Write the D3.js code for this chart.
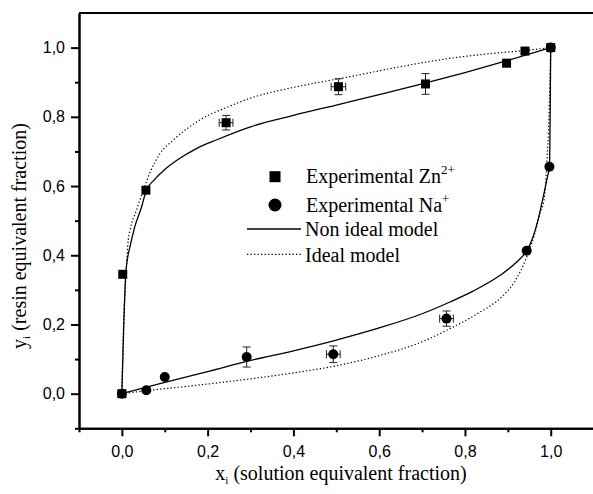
<!DOCTYPE html>
<html>
<head>
<meta charset="utf-8">
<script src="https://cdn.jsdelivr.net/npm/d3@7"></script>
<style>
  html, body { margin: 0; padding: 0; background: #fff; }
  svg { display: block; }
</style>
</head>
<body>
<svg id="chart" width="593" height="494"></svg>
<script>
// ---------- DATA ----------
const xTickValues = [0.0, 0.2, 0.4, 0.6, 0.8, 1.0];
const yTickValues = [0.0, 0.2, 0.4, 0.6, 0.8, 1.0];
const xMinorTicks = [-0.1, 0.1, 0.3, 0.5, 0.7, 0.9];
const yMinorTicks = [-0.1, 0.1, 0.3, 0.5, 0.7, 0.9];

// Experimental Zn2+ (squares)
const znX    = [0, 0.002, 0.056, 0.243, 0.505, 0.708, 0.897, 0.94, 1.0];
const znY    = [0, 0.345, 0.588, 0.783, 0.887, 0.895, 0.955, 0.99, 1.0];
const znYErr = [0, 0, 0, 0.021, 0.023, 0.030, 0, 0, 0];
const znXErr = [0, 0, 0, 0.016, 0.017, 0, 0, 0, 0];

// Experimental Na+ (circles)
const naX    = [0, 0.057, 0.1, 0.291, 0.493, 0.757, 0.944, 0.997, 1.0];
const naY    = [0, 0.010, 0.048, 0.106, 0.114, 0.217, 0.413, 0.656, 1.0];
const naYErr = [0, 0, 0, 0.029, 0.024, 0.022, 0, 0, 0];
const naXErr = [0, 0, 0, 0, 0.016, 0.016, 0, 0, 0];

// Non ideal model, Zn curve
const znNonIdealX = [0, 0.009, 0.013, 0.019, 0.03, 0.046, 0.057, 0.075, 0.1, 0.13, 0.175, 0.22, 0.3, 0.4, 0.5, 0.6, 0.7, 0.8, 0.9, 1.0];
const znNonIdealY = [0, 0.346, 0.39, 0.425, 0.482, 0.54, 0.588, 0.617, 0.648, 0.676, 0.709, 0.733, 0.771, 0.804, 0.834, 0.864, 0.895, 0.928, 0.963, 1.0];
// Ideal model, Zn curve
const znIdealX = [0, 0.004, 0.009, 0.0148, 0.0187, 0.034, 0.05, 0.065, 0.089, 0.12, 0.182, 0.25, 0.3, 0.4, 0.532, 0.65, 0.765, 0.88, 0.935, 1.0];
const znIdealY = [0, 0.2, 0.33, 0.444, 0.471, 0.53, 0.588, 0.637, 0.694, 0.733, 0.791, 0.83, 0.854, 0.885, 0.916, 0.945, 0.969, 0.985, 0.991, 1.0];
// Non ideal model, Na curve
const naNonIdealX = [0, 0.1, 0.2, 0.3, 0.4, 0.5, 0.6, 0.7, 0.765, 0.82, 0.882, 0.92, 0.944, 0.958, 0.97, 0.981, 0.988, 0.993, 0.997, 1.0];
const naNonIdealY = [0, 0.033, 0.064, 0.096, 0.124, 0.155, 0.19, 0.231, 0.265, 0.297, 0.342, 0.38, 0.413, 0.45, 0.5, 0.56, 0.6, 0.63, 0.656, 1.0];
// Ideal model, Na curve
const naIdealX = [0, 0.06, 0.15, 0.3, 0.4, 0.493, 0.6, 0.7, 0.765, 0.83, 0.886, 0.913, 0.944, 0.962, 0.975, 0.985, 0.991, 0.996, 1.0];
const naIdealY = [0, 0.009, 0.021, 0.043, 0.06, 0.079, 0.11, 0.15, 0.188, 0.232, 0.28, 0.318, 0.395, 0.46, 0.521, 0.565, 0.67, 0.8, 1.0];

// ---------- LAYOUT ----------
const svg = d3.select("#chart");
const plotLeft = 79, plotTop = 13, plotRight = 593.6, plotBottom = 428.3;
const x = d3.scaleLinear().domain([-0.1, 1.1]).range([plotLeft, plotRight]);
const y = d3.scaleLinear().domain([-0.1, 1.1]).range([plotBottom, plotTop]);

const loc = d3.formatLocale({decimal: ",", thousands: ".", grouping: [3], currency: ["", ""]});
const fmt = loc.format(".1f");

const sansFont = "'Liberation Sans', Arial, sans-serif";
const serifFont = "'Liberation Serif', 'Times New Roman', serif";

// ---------- AXES ----------
const xAxis = d3.axisBottom(x).tickValues(xTickValues).tickFormat(fmt).tickSize(8).tickSizeOuter(0).tickPadding(6);
const yAxis = d3.axisLeft(y).tickValues(yTickValues).tickFormat(fmt).tickSize(8).tickSizeOuter(0).tickPadding(6);
const xMinor = d3.axisBottom(x).tickValues(xMinorTicks).tickFormat("").tickSize(4).tickSizeOuter(0);
const yMinor = d3.axisLeft(y).tickValues(yMinorTicks).tickFormat("").tickSize(4).tickSizeOuter(0);

function styleAxis(g) {
  g.select(".domain").attr("stroke", "#000").attr("stroke-width", 2);
  g.selectAll(".tick line").attr("stroke", "#000").attr("stroke-width", 2);
  g.selectAll(".tick text").attr("font-family", sansFont).attr("font-size", 16).attr("fill", "#000");
}

svg.append("g").attr("transform", `translate(0,${plotBottom})`).call(xMinor).call(styleAxis);
svg.append("g").attr("transform", `translate(${plotLeft},0)`).call(yMinor).call(styleAxis);
const gx = svg.append("g").attr("transform", `translate(0,${plotBottom})`).call(xAxis).call(styleAxis);
const gy = svg.append("g").attr("transform", `translate(${plotLeft},0)`).call(yAxis).call(styleAxis);
gx.selectAll(".tick text").attr("dy", "0.9em");

// top frame line
svg.append("line")
  .attr("x1", x(-0.1)).attr("x2", x(1.1))
  .attr("y1", y(1.1)).attr("y2", y(1.1))
  .attr("stroke", "#000").attr("stroke-width", 2);

// axis titles
const xt = svg.append("text")
  .attr("x", 341).attr("y", 480)
  .attr("text-anchor", "middle")
  .attr("font-family", serifFont).attr("font-size", 20).attr("fill", "#000");
xt.append("tspan").text("x");
xt.append("tspan").attr("dy", 4).attr("font-size", 11).text("i");
xt.append("tspan").attr("dy", -4).text(" (solution equivalent fraction)");

const yt = svg.append("text")
  .attr("transform", "translate(26,236) rotate(-90)")
  .attr("text-anchor", "middle")
  .attr("font-family", serifFont).attr("font-size", 20).attr("fill", "#000");
yt.append("tspan").text("y");
yt.append("tspan").attr("dy", 4).attr("font-size", 11).text("i");
yt.append("tspan").attr("dy", -4).text(" (resin equivalent fraction)");

// ---------- CURVES ----------
const line = d3.line().x(d => x(d[0])).y(d => y(d[1])).curve(d3.curveMonotoneX);
const zip = (a, b) => a.map((v, i) => [v, b[i]]);

const curves = svg.append("g").attr("fill", "none").attr("stroke", "#000");
[[znNonIdealX, znNonIdealY], [naNonIdealX, naNonIdealY]].forEach(([a, b]) => {
  curves.append("path").attr("d", line(zip(a, b))).attr("stroke-width", 1.3);
});
[[znIdealX, znIdealY], [naIdealX, naIdealY]].forEach(([a, b]) => {
  curves.append("path").attr("d", line(zip(a, b))).attr("stroke-width", 1.2).attr("stroke-dasharray", "1.3,2.2");
});

// ---------- ERROR BARS ----------
const eb = svg.append("g").attr("stroke", "#222").attr("stroke-width", 1).attr("fill", "none");
const cap = 4;
function errorBars(xs, ys, xe, ye) {
  xs.forEach((xv, i) => {
    const cx = x(xv), cy = y(ys[i]);
    if (ye[i] > 0) {
      const y1 = y(ys[i] + ye[i]), y2 = y(ys[i] - ye[i]);
      eb.append("line").attr("x1", cx).attr("x2", cx).attr("y1", y1).attr("y2", y2);
      eb.append("line").attr("x1", cx - cap).attr("x2", cx + cap).attr("y1", y1).attr("y2", y1);
      eb.append("line").attr("x1", cx - cap).attr("x2", cx + cap).attr("y1", y2).attr("y2", y2);
    }
    if (xe[i] > 0) {
      const x1 = x(xv - xe[i]), x2 = x(xv + xe[i]);
      eb.append("line").attr("x1", x1).attr("x2", x2).attr("y1", cy).attr("y2", cy);
      eb.append("line").attr("x1", x1).attr("x2", x1).attr("y1", cy - cap).attr("y2", cy + cap);
      eb.append("line").attr("x1", x2).attr("x2", x2).attr("y1", cy - cap).attr("y2", cy + cap);
    }
  });
}
errorBars(znX, znY, znXErr, znYErr);
errorBars(naX, naY, naXErr, naYErr);

// ---------- MARKERS ----------
const sq = 9;
svg.append("g").selectAll("rect").data(zip(znX, znY)).join("rect")
  .attr("x", d => x(d[0]) - sq / 2).attr("y", d => y(d[1]) - sq / 2)
  .attr("width", sq).attr("height", sq).attr("fill", "#000");
svg.append("g").selectAll("circle").data(zip(naX, naY)).join("circle")
  .attr("cx", d => x(d[0])).attr("cy", d => y(d[1]))
  .attr("r", 5).attr("fill", "#000");

// ---------- LEGEND ----------
const lg = svg.append("g").attr("font-family", serifFont).attr("font-size", 20).attr("fill", "#000");
lg.append("rect").attr("x", 275 - 5.5).attr("y", 176.7 - 5.5).attr("width", 11).attr("height", 11).attr("fill", "#000");
const t1 = lg.append("text").attr("x", 306).attr("y", 183.3);
t1.append("tspan").text("Experimental Zn");
t1.append("tspan").attr("dy", -9).attr("font-size", 13).text("2+");

lg.append("circle").attr("cx", 275).attr("cy", 205).attr("r", 6.5).attr("fill", "#000");
const t2 = lg.append("text").attr("x", 306).attr("y", 211.7);
t2.append("tspan").text("Experimental Na");
t2.append("tspan").attr("dy", -9).attr("font-size", 13).text("+");

lg.append("line").attr("x1", 247).attr("x2", 301).attr("y1", 229).attr("y2", 229)
  .attr("stroke", "#000").attr("stroke-width", 1.3);
lg.append("text").attr("x", 305).attr("y", 236).text("Non ideal model");

lg.append("line").attr("x1", 247).attr("x2", 301).attr("y1", 254.3).attr("y2", 254.3)
  .attr("stroke", "#000").attr("stroke-width", 1.2).attr("stroke-dasharray", "1.3,2.2");
lg.append("text").attr("x", 305).attr("y", 261.7).text("Ideal model");
</script>
</body>
</html>
